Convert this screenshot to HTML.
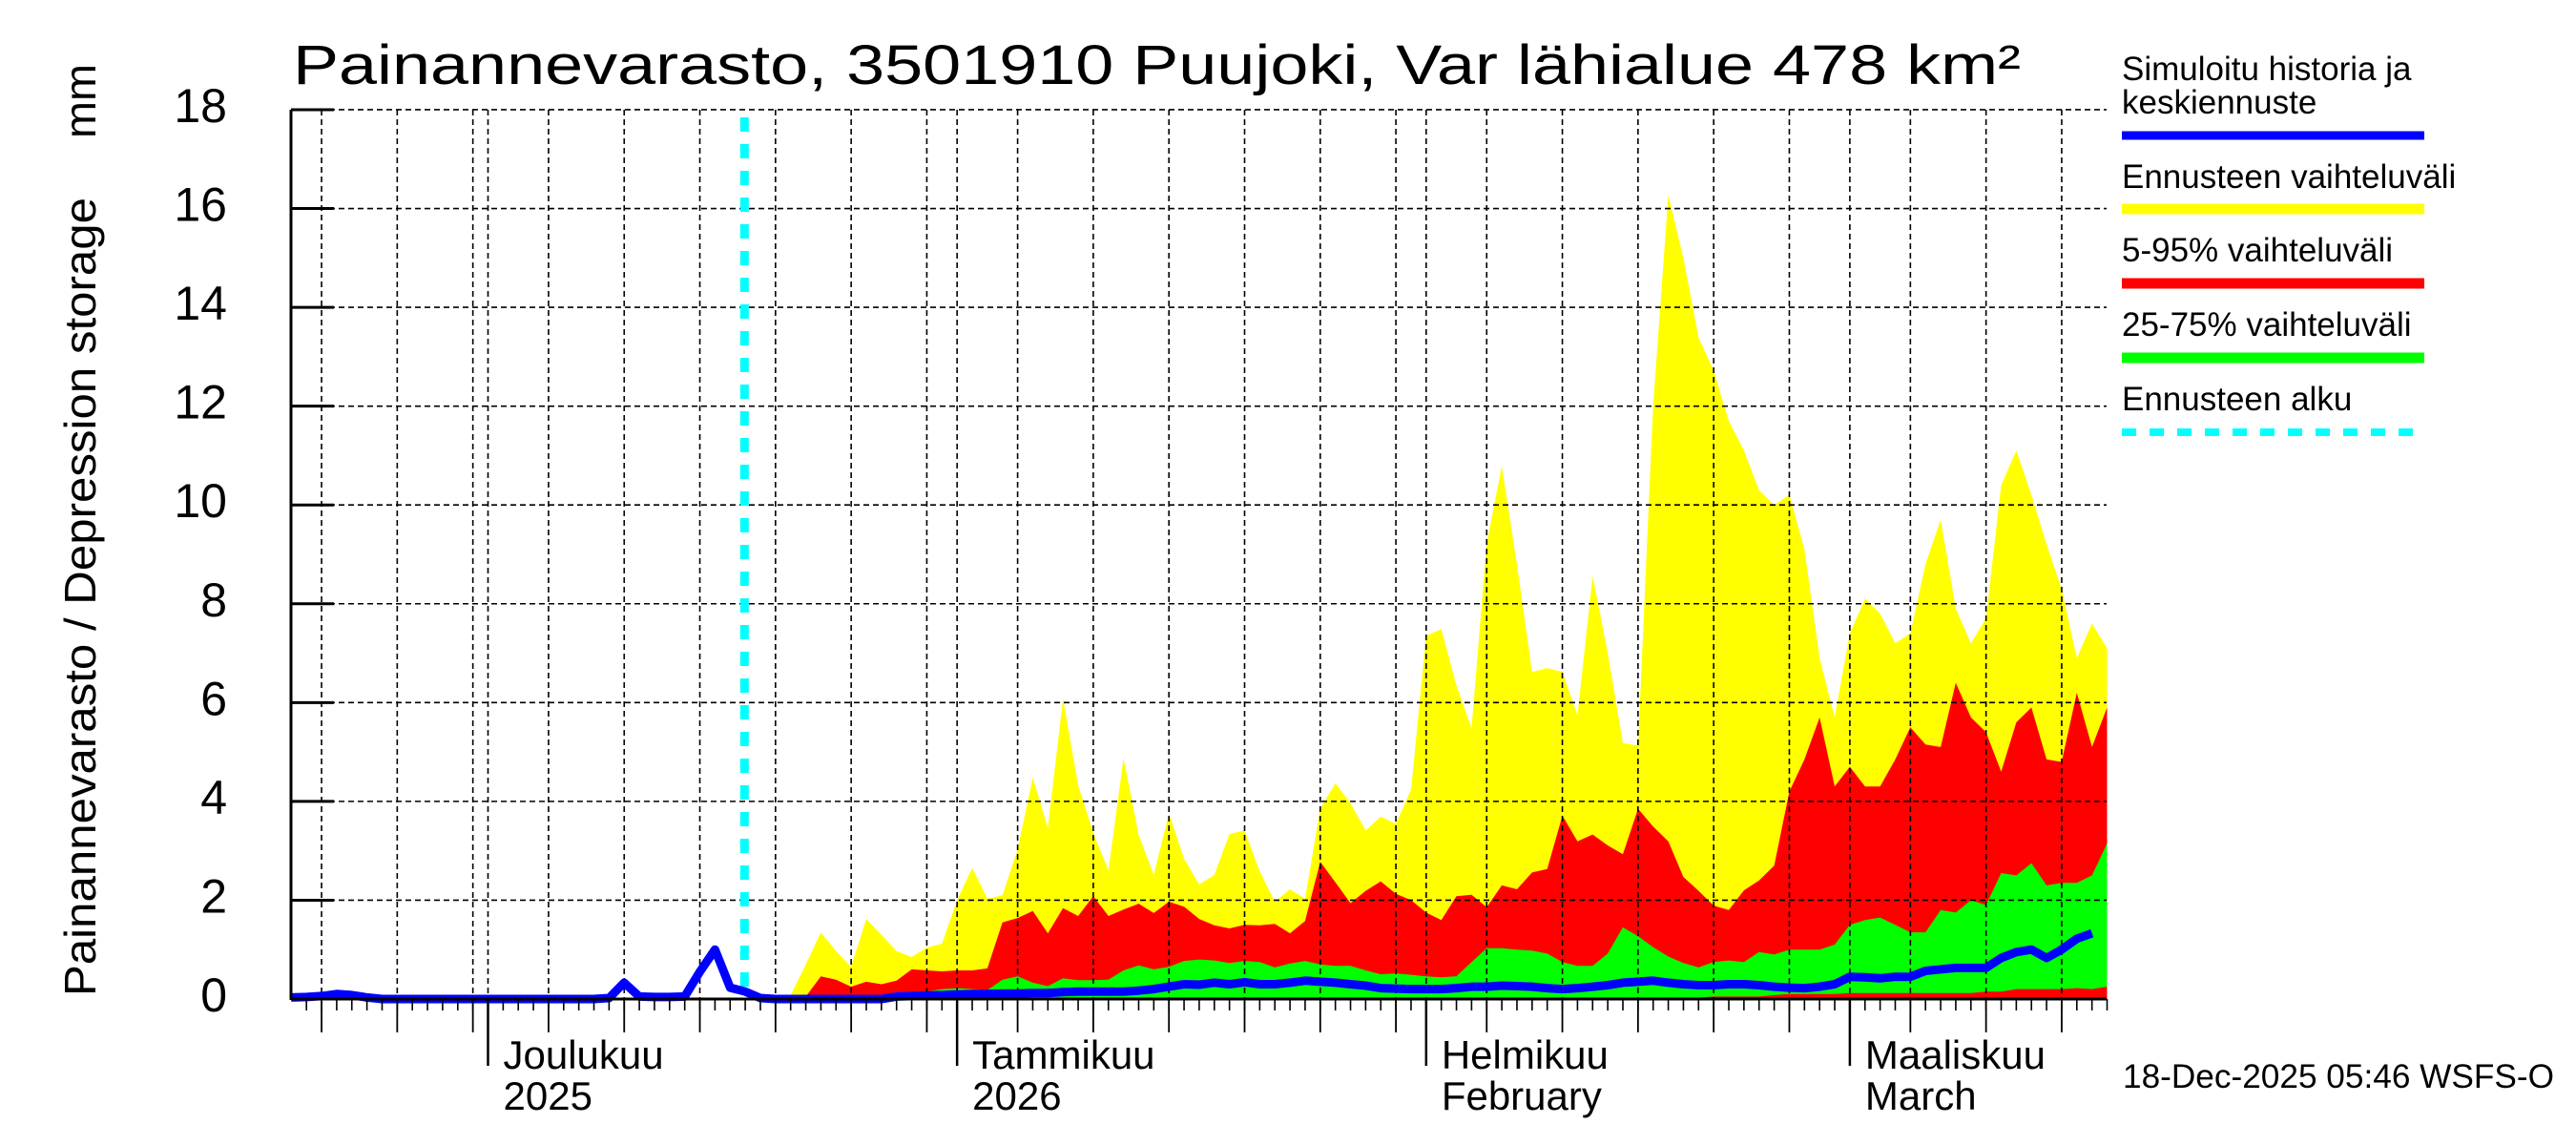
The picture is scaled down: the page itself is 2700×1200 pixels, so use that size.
<!DOCTYPE html>
<html><head><meta charset="utf-8"><style>
html,body{margin:0;padding:0;background:#fff;}
svg{display:block;font-family:"Liberation Sans",Arial,sans-serif;}
</style></head><body>
<svg id="chart" width="2700" height="1200" viewBox="0 0 2700 1200" xmlns="http://www.w3.org/2000/svg">
<rect x="0" y="0" width="2700" height="1200" fill="#fff"/>
<g id="bands"></g>
<g id="grid"></g>
<g id="lines"></g>
<g id="axes"></g>
<text x="307" y="88" font-size="58" textLength="1811" lengthAdjust="spacingAndGlyphs">Painannevarasto, 3501910 Puujoki, Var lähialue 478 km²</text>
<text transform="translate(100,1044) rotate(-90)" font-size="46" textLength="837" lengthAdjust="spacingAndGlyphs">Painannevarasto / Depression storage</text>
<text transform="translate(100,145) rotate(-90)" font-size="46" textLength="78" lengthAdjust="spacingAndGlyphs">mm</text>
<g>
<text x="2224" y="84" font-size="35">Simuloitu historia ja</text>
<text x="2224" y="119" font-size="35">keskiennuste</text>
<line x1="2224" y1="142" x2="2541" y2="142" stroke="#0000ff" stroke-width="9"/>
<text x="2224" y="197" font-size="35">Ennusteen vaihteluväli</text>
<line x1="2224" y1="219" x2="2541" y2="219" stroke="#ffff00" stroke-width="11"/>
<text x="2224" y="274" font-size="35">5-95% vaihteluväli</text>
<line x1="2224" y1="297" x2="2541" y2="297" stroke="#ff0000" stroke-width="11"/>
<text x="2224" y="352" font-size="35">25-75% vaihteluväli</text>
<line x1="2224" y1="375" x2="2541" y2="375" stroke="#00ff00" stroke-width="11"/>
<text x="2224" y="430" font-size="35">Ennusteen alku</text>
<line x1="2224" y1="453" x2="2541" y2="453" stroke="#00ffff" stroke-width="8" stroke-dasharray="15 14"/>
</g>
<text x="2225" y="1140" font-size="35" textLength="452" lengthAdjust="spacingAndGlyphs">18-Dec-2025 05:46 WSFS-O</text>
</svg>
<script>
// Day index: 0 = 1 Dec 2025
const yTicks = [0,2,4,6,8,10,12,14,16,18];
const monthStarts = [0,31,62,90];
const monthLabels1 = ["Joulukuu","Tammikuu","Helmikuu","Maaliskuu"];
const monthLabels2 = ["2025","2026","February","March"];
const medianStart = -13;
const median = [0.03,0.04,0.06,0.1,0.08,0.03,0,0,0,0,0,0,0,0,0,0,0,0,0,0,0,0.02,0.33,0.05,0.04,0.04,0.05,0.55,1.0,0.23,
0.15,0.02,0,0,0,0,0,0,0,0,0.05,0.06,0.07,0.08,0.09,0.1,0.1,0.11,0.11,0.12,0.12,0.14,0.15,0.15,0.15,0.15,0.17,0.2,0.25,0.3,0.29,0.33,0.3,0.34,0.3,
0.3,0.33,0.37,0.35,0.33,0.3,0.27,0.22,0.21,0.2,0.2,0.2,0.22,0.25,0.25,0.27,0.26,0.25,0.22,0.2,0.22,0.25,0.28,0.33,0.35,0.37,0.33,0.3,0.28,
0.28,0.3,0.3,0.28,0.25,0.23,0.22,0.25,0.3,0.45,0.44,0.42,0.45,0.45,0.57,0.6,0.63,0.63,0.63,0.83,0.95,1.0,0.83,1.0,1.22,1.33];
const bandStart = 18;
const rangeMax = [0,0,0.08,0.7,1.35,0.97,0.65,1.62,1.3,0.97,0.85,1.04,1.12,2.0,2.65,2.03,2.1,3.03,4.48,3.46,6.08,4.33,3.36,2.6,4.87,3.32,2.51,3.75,2.84,2.32,2.51,3.34,3.41,2.58,1.97,
2.22,2.03,3.85,4.37,3.96,3.41,3.69,3.55,4.24,7.35,7.49,6.35,5.48,9.23,10.78,8.79,6.62,6.7,6.62,5.74,8.56,7.01,5.18,5.13,12.0,16.27,15.0,13.39,12.72,
11.7,11.1,10.3,10.0,10.2,9.1,6.9,5.7,7.4,8.1,7.8,7.2,7.4,8.8,9.7,7.9,7.2,7.7,10.4,11.1,10.2,9.2,8.3,6.9,7.6,7.1];
const p95 = [0,0,0,0.05,0.46,0.39,0.25,0.35,0.3,0.37,0.6,0.58,0.56,0.58,0.58,0.62,1.55,1.64,1.78,1.33,1.84,1.68,2.08,1.68,1.81,1.93,1.74,1.97,1.87,1.62,1.49,1.43,1.5,1.49,1.52,
1.33,1.58,2.78,2.36,1.94,2.19,2.38,2.13,2.0,1.75,1.6,2.08,2.11,1.86,2.3,2.22,2.56,2.63,3.71,3.19,3.33,3.11,2.93,3.85,3.49,3.19,2.47,2.19,1.89,
1.8,2.2,2.4,2.7,4.2,4.85,5.7,4.3,4.7,4.3,4.3,4.85,5.5,5.15,5.1,6.4,5.7,5.4,4.6,5.6,5.9,4.85,4.8,6.2,5.1,5.9];
const p75 = [0,0,0,0,0,0,0,0,0,0,0,0.15,0.2,0.22,0.2,0.18,0.39,0.46,0.33,0.26,0.42,0.38,0.38,0.39,0.58,0.68,0.6,0.65,0.77,0.8,0.78,0.73,0.77,0.75,0.64,
0.72,0.77,0.7,0.67,0.67,0.58,0.5,0.52,0.49,0.46,0.44,0.46,0.75,1.03,1.03,1.0,0.98,0.92,0.75,0.67,0.67,0.92,1.45,1.27,1.05,0.86,0.73,0.64,0.75,
0.78,0.75,0.95,0.9,1.0,1.0,1.0,1.1,1.5,1.6,1.65,1.5,1.35,1.35,1.8,1.75,2.0,1.9,2.55,2.5,2.75,2.3,2.35,2.35,2.5,3.15];
const p25 = [0,0,0,0,0,0,0,0,0,0,0,0,0,0,0,0,0,0,0,0,0,0,0.03,0.03,0.03,0.03,0.03,0.03,0.03,0.03,0.03,0.03,0.03,0.03,0.03,
0.03,0.03,0.03,0.03,0.03,0.03,0.03,0.03,0.03,0.03,0.03,0.03,0.03,0.03,0.03,0.03,0.03,0.03,0.03,0.03,0.03,0.03,0.03,0.03,0.03,0.03,0.03,0.03,0.05,
0.05,0.05,0.05,0.08,0.1,0.1,0.1,0.1,0.12,0.12,0.12,0.12,0.12,0.12,0.12,0.12,0.12,0.15,0.15,0.2,0.2,0.2,0.2,0.22,0.2,0.25];
const forecastStartDay = 16.95;

const NS = "http://www.w3.org/2000/svg";
const X0 = 511.5, PXD = 15.86, Y0 = 1047, PXV = 51.78, XL = 305, XR = 2208, YT = 115;
const dayMin = -13, dayMax = 107;
function xs(d){ return X0 + d*PXD; }
function ys(v){ return Y0 - v*PXV; }
function mk(tag, attrs, parent){ const e=document.createElementNS(NS,tag); for(const k in attrs) e.setAttribute(k,attrs[k]); parent.appendChild(e); return e; }

const bands = document.getElementById('bands');
function band(upper, lower, color, name){
  let pts=[];
  for(let i=0;i<upper.length;i++) pts.push(xs(bandStart+i).toFixed(1)+','+ys(upper[i]).toFixed(1));
  for(let i=upper.length-1;i>=0;i--) pts.push(xs(bandStart+i).toFixed(1)+','+ys(lower?lower[i]:0).toFixed(1));
  const p = mk('polygon',{points:pts.join(' '),fill:color},bands);
  
  
}
band(rangeMax, null, '#ffff00', 'band-forecast-range');
band(p95, null, '#ff0000', 'band-5-95');
band(p75, p25, '#00ff00', 'band-25-75');

const grid = document.getElementById('grid');
yTicks.forEach(v=>{
  if(v===0) return;
  const l = mk('line',{x1:XL,x2:XR,y1:ys(v),y2:ys(v),stroke:'#000','stroke-width':1.6,'stroke-dasharray':'6 4'},grid);
  
  
});
const monthLen = [30,31,31,28,31];
const monthOff = [-30,0,31,62,90];
const gridDays = [];
for(let m=0;m<monthOff.length;m++){
  for(let dd=1; dd<=monthLen[m]; dd++){
    if(dd===1 || dd%5===0){ const d=monthOff[m]+dd-1; if(d>dayMin && d<=dayMax) gridDays.push({d:d,month:dd===1}); }
  }
}
gridDays.forEach(g=>{
  const l = mk('line',{x1:xs(g.d),x2:xs(g.d),y1:YT,y2:Y0,stroke:'#000','stroke-width':1.6,'stroke-dasharray':'6 4'},grid);
  
  
});

const lines = document.getElementById('lines');
const cy = mk('line',{x1:xs(forecastStartDay),x2:xs(forecastStartDay),y1:YT+8,y2:Y0,stroke:'#00ffff','stroke-width':9,'stroke-dasharray':'15 13'},lines);


let mp = median.map((v,i)=>xs(medianStart+i).toFixed(1)+','+ys(v).toFixed(1)).join(' ');
const ml = mk('polyline',{points:mp,fill:'none',stroke:'#0000ff','stroke-width':9,'stroke-linejoin':'round'},lines);



const axes = document.getElementById('axes');
const ax1 = mk('line',{x1:XL,x2:XL,y1:YT,y2:Y0+1,stroke:'#000','stroke-width':3},axes);


const ax2 = mk('line',{x1:XL,x2:XR,y1:Y0,y2:Y0,stroke:'#000','stroke-width':3},axes);


yTicks.forEach(v=>{
  const t = mk('line',{x1:XL,x2:XL+45,y1:ys(v),y2:ys(v),stroke:'#000','stroke-width':3},axes);
  
  
  const tx = mk('text',{x:238,y:ys(v)+13,'font-size':50,'text-anchor':'end'},axes);
  tx.textContent = String(v);
  
  
});
for(let d=dayMin+1; d<=dayMax; d++){
  const t = mk('line',{x1:xs(d),x2:xs(d),y1:Y0,y2:Y0+12,stroke:'#000','stroke-width':1.6},axes);
  
  
}
gridDays.forEach(g=>{
  const t = mk('line',{x1:xs(g.d),x2:xs(g.d),y1:Y0,y2:g.month?1117:1082,stroke:'#000','stroke-width':g.month?2.5:1.8},axes);
  
  
});
monthStarts.forEach((d,i)=>{
  const a = mk('text',{x:xs(d)+16,y:1120,'font-size':42},axes);
  a.textContent = monthLabels1[i];
  
  
  const b = mk('text',{x:xs(d)+16,y:1163,'font-size':42},axes);
  b.textContent = monthLabels2[i];
  
  
});
</script>
</body></html>
